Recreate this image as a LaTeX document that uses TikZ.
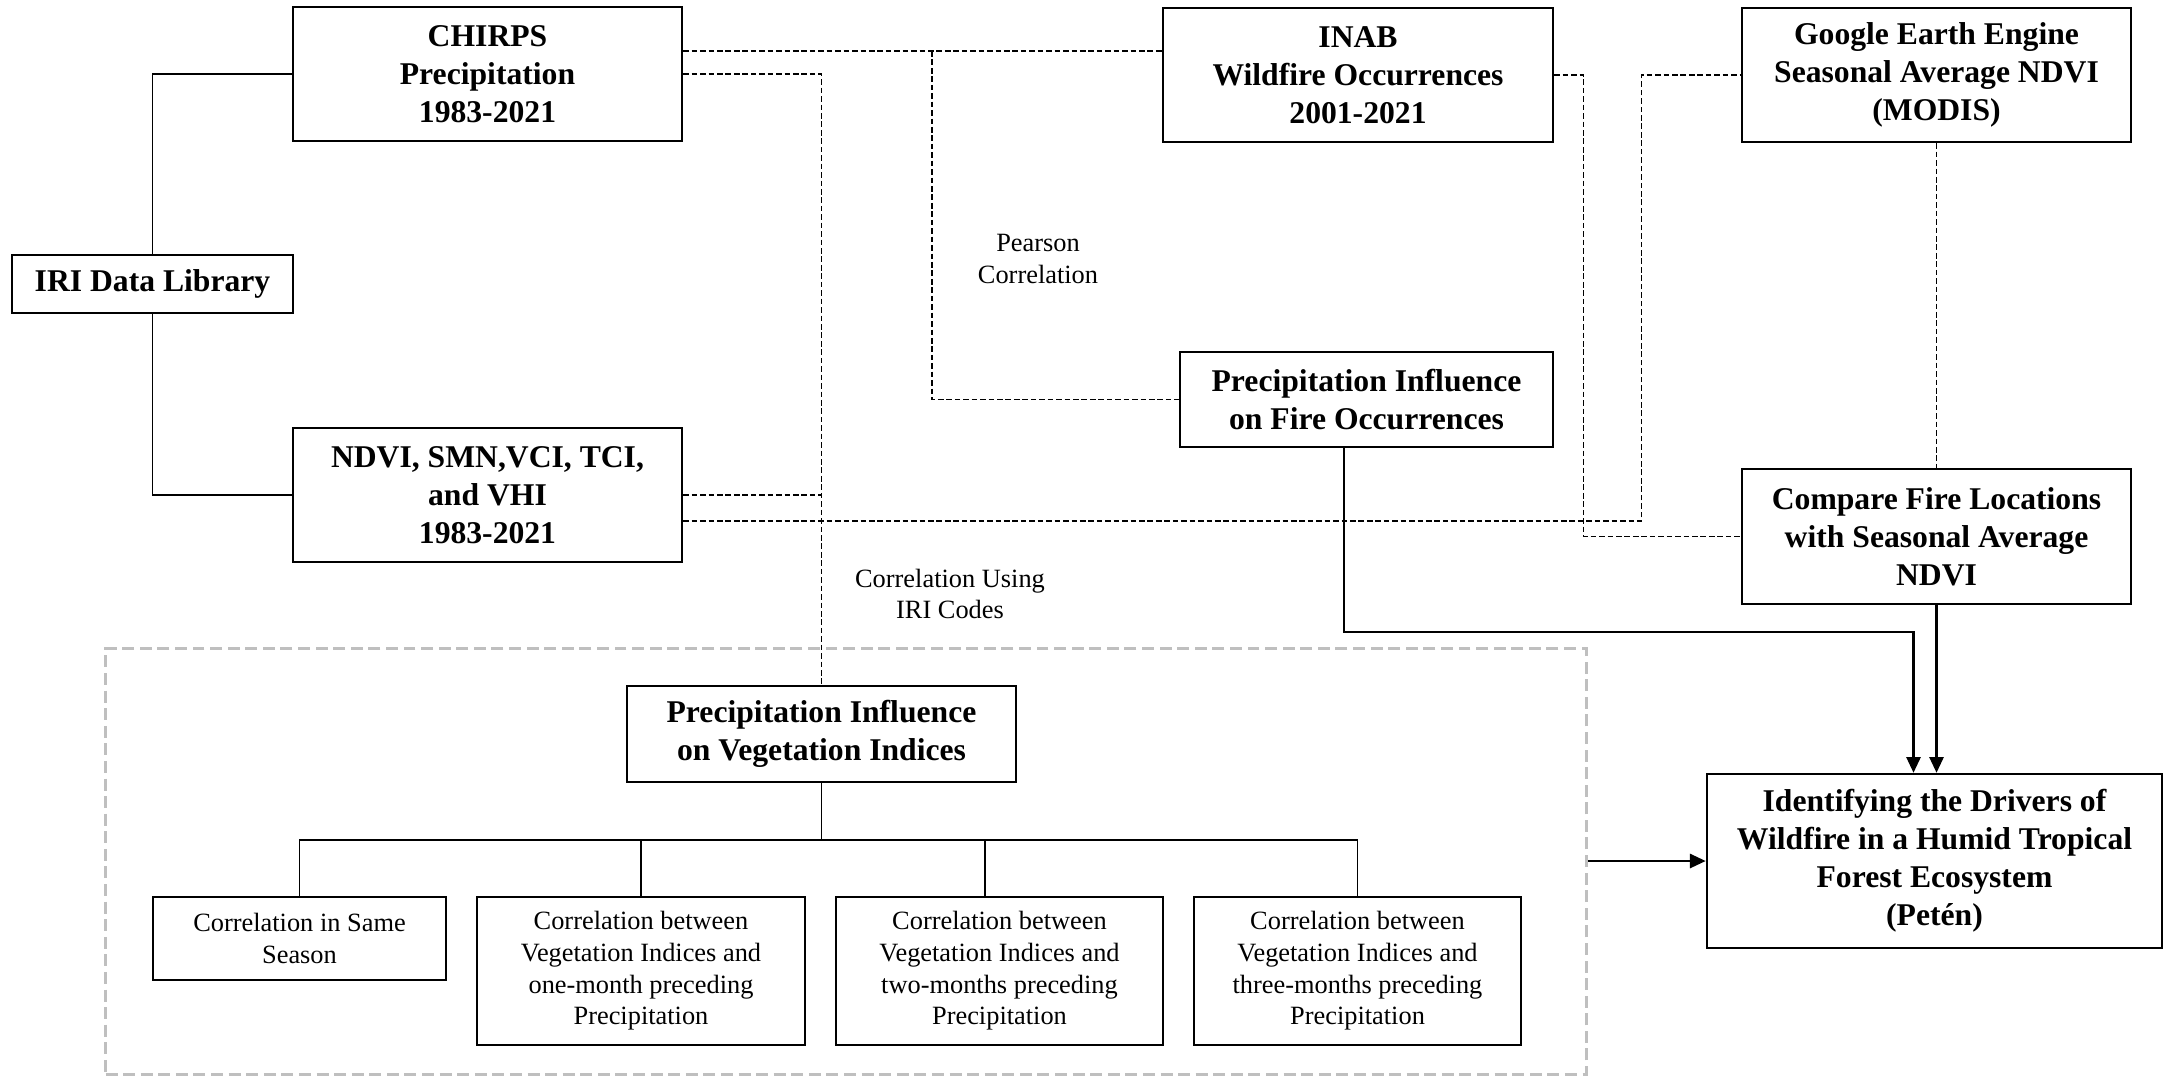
\documentclass[tikz,border=0pt]{standalone}
\usepackage{fontspec}
\setmainfont{Liberation Serif}
\usetikzlibrary{arrows.meta,calc}
\begin{document}
\begin{tikzpicture}[x=0.01cm,y=-0.01cm,
	databox/.style={draw,line width=.65pt,align=center,inner sep=0pt,font=\fontsize{9}{10.8}\selectfont\bfseries},
	subbox/.style={draw,line width=.6pt,align=center,inner sep=0pt,font=\fontsize{7.5}{9}\selectfont},
	note/.style={align=center,inner sep=0pt,font=\fontsize{7.5}{9}\selectfont},
	link/.style={line width=.4pt,dash pattern=on 1.6pt off .8pt},
	arr/.style={line width=.75pt,-{Triangle[length=4.5pt,width=4pt]}}]
	
	\useasboundingbox (0,0) rectangle (2164,1075);
	
	\def\tj{840} %muc thanh ngang cua cay
	
	% o du lieu
	\node[databox,minimum width=2.81cm,minimum height=.58cm] (iri) at (152.5,284) {IRI Data Library};
	\node[databox,minimum width=3.89cm,minimum height=1.34cm] (chirps) at (487.5,74) {CHIRPS\\Precipitation\\1983-2021};
	\node[databox,minimum width=3.89cm,minimum height=1.34cm] (ndvi) at (487.5,495) {NDVI, SMN,VCI, TCI,\\and VHI\\1983-2021};
	\node[databox,minimum width=3.90cm,minimum height=1.34cm] (inab) at (1358,75) {INAB\\Wildfire Occurrences\\2001-2021};
	\node[databox,minimum width=3.89cm,minimum height=1.34cm] (gee) at (1936.5,75) {Google Earth Engine\\Seasonal Average NDVI\\(MODIS)};
	\node[databox,minimum width=3.73cm,minimum height=.95cm] (pfire) at (1366.5,399.5) {Precipitation Influence\\on Fire Occurrences};
	\node[databox,minimum width=3.89cm,minimum height=1.35cm] (comp) at (1936.5,536.5) {Compare Fire Locations\\with Seasonal Average\\NDVI};
	\node[databox,minimum width=4.55cm,minimum height=1.74cm] (ident) at (1934.5,861) {Identifying the Drivers of\\Wildfire in a Humid Tropical\\Forest Ecosystem\\(Petén)};
	
	% khung xam
	\node[draw=black!25,line width=.8pt,dash pattern=on 3.4pt off 1.6pt,minimum width=14.8cm,minimum height=4.25cm] (grp) at (846,861.5) {};
	\node[databox,minimum width=3.89cm,minimum height=.96cm] (pveg) at (821.5,734) {Precipitation Influence\\on Vegetation Indices};
	\node[subbox,minimum width=2.93cm,minimum height=.83cm] (b1) at (299.5,938.5) {Correlation in Same\\Season};
	\node[subbox,minimum width=3.28cm,minimum height=1.48cm] (b2) at (641,971) {Correlation between\\Vegetation Indices and\\one-month preceding\\Precipitation};
	\node[subbox,minimum width=3.27cm,minimum height=1.48cm] (b3) at (999.5,971) {Correlation between\\Vegetation Indices and\\two-months preceding\\Precipitation};
	\node[subbox,minimum width=3.27cm,minimum height=1.48cm] (b4) at (1357.5,971) {Correlation between\\Vegetation Indices and\\three-months preceding\\Precipitation};
	
	\node[note] (pear) at (1038,259) {Pearson\\Correlation};
	\node[note] (ciri) at (950,594) {Correlation Using\\IRI Codes};
	
	% IRI -> du lieu
	\draw[line width=.5pt] (iri.north) |- (chirps.west);
	\draw[line width=.5pt] (iri.south) |- (ndvi.west);
	
	% duong net dut
	\coordinate (c1) at ([yshift=.23cm]chirps.east);
	\coordinate (pj) at (c1 -| 932,0);
	\draw[link] (c1) -- (c1 -| inab.west);
	\draw[link] (pj) |- (pfire.west);
	\draw[link] (chirps.east) -| (pveg.north);
	\draw[link] (ndvi.east) -- (ndvi.east -| pveg.north);
	\draw[link] ([yshift=-.26cm]ndvi.east) -| ([xshift=-.99cm]gee.west) -- (gee.west);
	\draw[link] (inab.east) -| ([xshift=-1.57cm]comp.west) -- (comp.west);
	\draw[link] (gee.south) -- (comp.north);
	
	% cay
	\draw[line width=.45pt] (pveg.south) -- (pveg.south |- 0,\tj);
	\draw[line width=.45pt] (b1.north) |- (b4.north |- 0,\tj) -- (b4.north);
	\draw[line width=.4pt] (b2.north) -- (b2.north |- 0,\tj);
	\draw[line width=.4pt] ([xshift=-.145cm]b3.north) -- ([xshift=-.145cm]b3.north |- 0,\tj);
	
	% mui ten
	\coordinate (fa) at ([xshift=-.21cm]ident.north);
	\draw[arr] ([xshift=-.225cm]pfire.south) |- (fa |- 0,632) -- (fa);
	\draw[arr] (comp.south) -- (comp.south |- ident.north);
	\draw[arr] (grp.east |- ident.west) -- (ident.west);
	
\end{tikzpicture}
\end{document}
